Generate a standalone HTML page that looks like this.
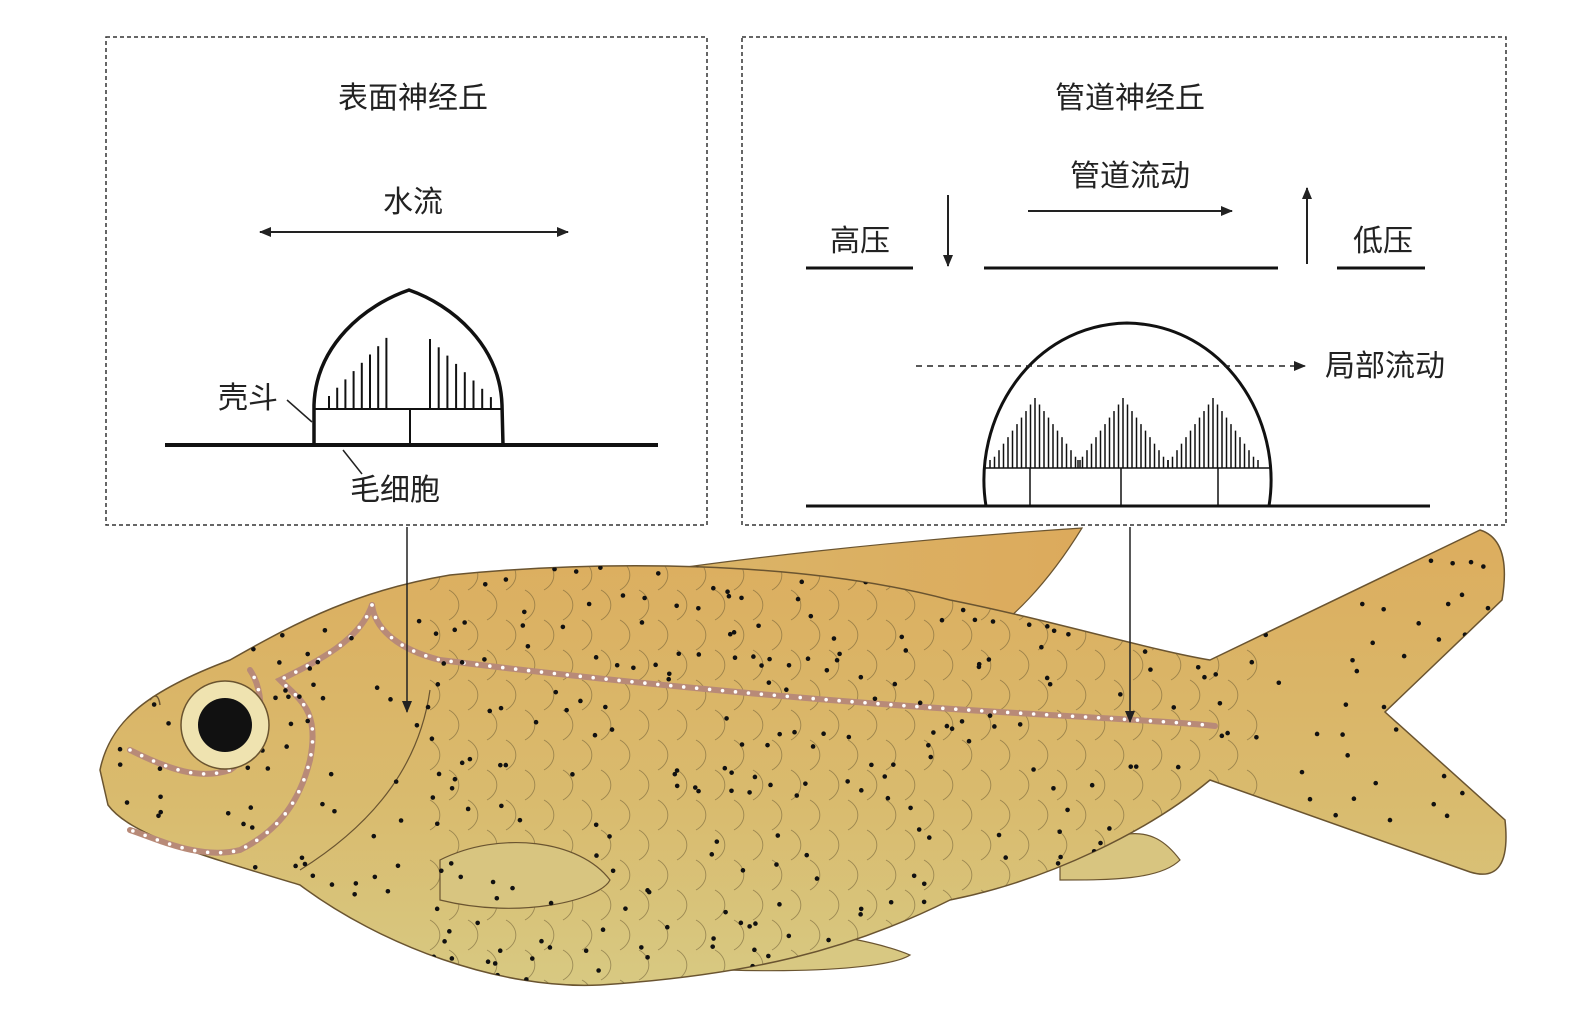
<!DOCTYPE html>
<html><head><meta charset="utf-8">
<style>
html,body{margin:0;padding:0;background:#fff;}
svg{display:block;}
text{font-family:"Liberation Sans","Noto Sans CJK SC",sans-serif;fill:#222;}
</style></head>
<body>
<svg id="s" width="1579" height="1018" viewBox="0 0 1579 1018" xmlns="http://www.w3.org/2000/svg">
<defs>
<linearGradient id="g" x1="0" y1="0" x2="0" y2="1">
<stop offset="0" stop-color="#dcad5e"/>
<stop offset="0.6" stop-color="#d9bb6e"/>
<stop offset="1" stop-color="#d8c982"/>
</linearGradient>
<linearGradient id="gt" x1="0" y1="0" x2="1" y2="0">
<stop offset="0" stop-color="#dab76a"/>
<stop offset="1" stop-color="#dcaa5c"/>
</linearGradient>
<marker id="a" markerWidth="12" markerHeight="10" refX="11" refY="5" orient="auto" markerUnits="userSpaceOnUse">
<path d="M0,0 L12,5 L0,10 Z" fill="#222"/>
</marker>
<marker id="b" markerWidth="12" markerHeight="10" refX="1" refY="5" orient="auto" markerUnits="userSpaceOnUse">
<path d="M12,0 L0,5 L12,10 Z" fill="#222"/>
</marker>
<clipPath id="fc"><path id="bodyp" d="M100,770 C110,720 150,690 230,660 C300,620 360,590 450,575 C600,560 800,560 950,600 C1050,620 1150,650 1210,660 L1480,530 Q1512,540 1502,600 L1385,712 L1505,820 Q1512,885 1470,872 L1210,780 C1150,830 1050,880 950,900 C850,950 750,975 600,985 C500,990 380,945 300,885 C200,855 130,835 108,805 Z"/></clipPath>
</defs>

<rect x="106" y="37" width="601" height="488" fill="none" stroke="#333" stroke-width="1.5" stroke-dasharray="4,3"/>
<rect x="742" y="37" width="764" height="488" fill="none" stroke="#333" stroke-width="1.5" stroke-dasharray="4,3"/>

<text x="413" y="108" font-size="30" text-anchor="middle">表面神经丘</text>
<text x="413" y="212" font-size="30" text-anchor="middle">水流</text>
<line x1="260" y1="232" x2="568" y2="232" stroke="#222" stroke-width="2" marker-end="url(#a)" marker-start="url(#b)"/>
<line x1="165" y1="445" x2="658" y2="445" stroke="#111" stroke-width="4"/>
<path d="M314,445 L314,405 C316,345 365,305 409,290 C452,305 500,345 502,405 L503,445" fill="none" stroke="#111" stroke-width="3.5"/>
<line x1="314" y1="409" x2="502" y2="409" stroke="#111" stroke-width="2"/>
<line x1="410" y1="409" x2="410" y2="445" stroke="#111" stroke-width="2"/>
<g id="lh" stroke="#111" stroke-width="2"></g>
<text x="248" y="408" font-size="30" text-anchor="middle">壳斗</text>
<line x1="287" y1="400" x2="312" y2="422" stroke="#222" stroke-width="1.5"/>
<line x1="343" y1="450" x2="362" y2="474" stroke="#222" stroke-width="1.5"/>
<text x="395" y="500" font-size="30" text-anchor="middle">毛细胞</text>

<text x="1130" y="108" font-size="30" text-anchor="middle">管道神经丘</text>
<text x="1130" y="186" font-size="30" text-anchor="middle">管道流动</text>
<line x1="1028" y1="211" x2="1232" y2="211" stroke="#222" stroke-width="2" marker-end="url(#a)"/>
<text x="860" y="251" font-size="30" text-anchor="middle">高压</text>
<line x1="806" y1="268" x2="913" y2="268" stroke="#111" stroke-width="3"/>
<line x1="948" y1="195" x2="948" y2="266" stroke="#222" stroke-width="2" marker-end="url(#a)"/>
<line x1="984" y1="268" x2="1278" y2="268" stroke="#111" stroke-width="3"/>
<line x1="1307" y1="264" x2="1307" y2="188" stroke="#222" stroke-width="2" marker-end="url(#a)"/>
<text x="1383" y="251" font-size="30" text-anchor="middle">低压</text>
<line x1="1337" y1="268" x2="1425" y2="268" stroke="#111" stroke-width="3"/>
<line x1="806" y1="506" x2="1430" y2="506" stroke="#111" stroke-width="3"/>
<path d="M986,506 C972,420 1030,325 1127,323 C1225,325 1283,420 1269,506" fill="none" stroke="#111" stroke-width="3"/>
<line x1="985" y1="468" x2="1270" y2="468" stroke="#111" stroke-width="1.5"/>
<line x1="1030" y1="468" x2="1030" y2="506" stroke="#111" stroke-width="1.5"/>
<line x1="1121" y1="468" x2="1121" y2="506" stroke="#111" stroke-width="1.5"/>
<line x1="1218" y1="468" x2="1218" y2="506" stroke="#111" stroke-width="1.5"/>
<g id="rh" stroke="#111" stroke-width="1.5"></g>
<line x1="916" y1="366" x2="1305" y2="366" stroke="#222" stroke-width="1.5" stroke-dasharray="6,5" marker-end="url(#a)"/>
<text x="1385" y="376" font-size="30" text-anchor="middle">局部流动</text>

<path d="M600,580 C720,560 900,540 1082,528 C1050,580 1010,625 970,645 L620,600 Z" fill="url(#gt)" stroke="#6a5430" stroke-width="1.2"/>
<path d="M1060,860 C1120,830 1150,820 1180,860 C1160,880 1110,880 1060,880 Z" fill="#d8c580" stroke="#6a5430" stroke-width="1.2"/>
<path d="M620,930 C720,920 850,930 910,955 C880,975 700,975 620,960 Z" fill="#d8c882" stroke="#6a5430" stroke-width="1.2"/>
<use href="#bodyp" fill="url(#g)" stroke="#6a5430" stroke-width="1.5"/>
<g clip-path="url(#fc)" id="scales" fill="none" stroke="#6a5a34" stroke-width="0.9" opacity="0.55"></g>
<path d="M150,700 Q158,690 160,705" fill="#d6b468" stroke="#6a5430" stroke-width="1.5"/>
<path d="M430,690 C420,760 380,820 300,870" fill="none" stroke="#6a5430" stroke-width="1.2"/>
<path d="M440,860 C500,830 580,840 610,880 C600,900 520,920 440,900 Z" fill="#d8c580" stroke="#6a5430" stroke-width="1.2"/>
<g fill="none" stroke="#b88a78" stroke-width="6" stroke-linecap="round" id="ll">
<path d="M372,605 C375,630 400,650 440,660 C600,680 800,700 1000,712 C1100,718 1180,722 1215,726"/>
<path d="M372,605 C360,640 320,660 280,680 C300,700 320,710 310,760 C300,800 280,830 240,850 C200,860 160,840 130,830"/>
<path d="M130,750 C170,770 200,780 230,770 C260,750 270,700 250,670"/>
</g>
<g id="ldots" fill="#fff"></g>
<g id="dots" fill="#111" clip-path="url(#fc)"></g>
<circle cx="225" cy="725" r="44" fill="#efe3b0" stroke="#6a5430" stroke-width="1.5"/>
<circle cx="225" cy="725" r="27" fill="#111"/>

<line x1="407" y1="527" x2="407" y2="712" stroke="#222" stroke-width="1.5" marker-end="url(#a)"/>
<line x1="1130" y1="527" x2="1130" y2="722" stroke="#222" stroke-width="1.5" marker-end="url(#a)"/>
</svg>
<script>
var NS="http://www.w3.org/2000/svg";
function el(p,t,a){var e=document.createElementNS(NS,t);for(var k in a)e.setAttribute(k,a[k]);document.getElementById(p).appendChild(e);return e;}
for(var i=0;i<8;i++){var x=329+i*8.2,t=396-i*8.3;el("lh","line",{x1:x,y1:409,x2:x,y2:t});}
for(var i=0;i<8;i++){var x=430+i*8.7,t=339+i*8.3;el("lh","line",{x1:x,y1:409,x2:x,y2:t});}
[1035,1123,1213].forEach(function(c){for(var dx=-45;dx<=45;dx+=4.5){var h=70-Math.abs(dx)*1.45;if(h<8)h=8;el("rh","line",{x1:c+dx,y1:468,x2:c+dx,y2:468-h});}});
var seed=7;function r(){seed=(seed*9301+49297)%233280;return seed/233280;}
for(var x=430;x<1260;x+=38){for(var y=560;y<1000;y+=30){var ox=((Math.round((y-560)/30))%2)*19;el("scales","path",{d:"M"+(x+ox)+","+y+" a22,18 0 0 1 0,30"});}}
var ll=document.querySelectorAll("#ll path");
ll.forEach(function(p){var L=p.getTotalLength();for(var d=0;d<L;d+=13){var q=p.getPointAtLength(d);el("ldots","circle",{cx:q.x,cy:q.y,r:1.8});}});
for(var i=0;i<480;i++){var x=120+r()*1380,y=560+r()*420;el("dots","circle",{cx:x,cy:y,r:2.3});}
</script>
</body></html>
